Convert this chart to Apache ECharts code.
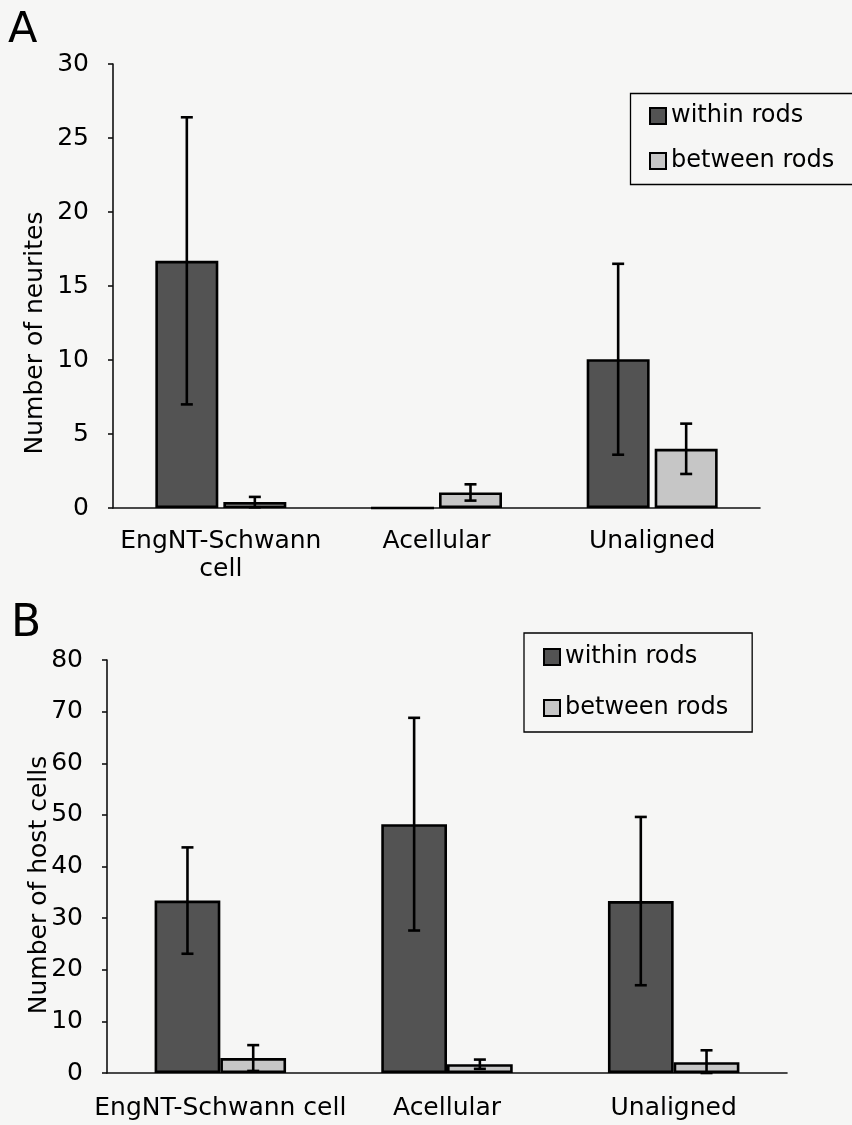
<!DOCTYPE html>
<html><head><meta charset="utf-8">
<script src="https://cdn.jsdelivr.net/npm/echarts@6/dist/echarts.min.js"></script>
<style>html,body{margin:0;padding:0;background:#f6f6f5;overflow:hidden;} #c{width:852px;height:1125px;}</style>
</head><body><div id="c"></div>
<script>
// ---- data ----
const seriesNames = ['within rods', 'between rods'];
const categoriesA = ['EngNT-Schwann\ncell', 'Acellular', 'Unaligned'];
const withinA = [16.7, 0, 10.05];
const withinErrA = [9.7, 0, 6.45];
const betweenA = [0.4, 1.05, 4.0];
const betweenErrA = [0.35, 0.55, 1.7];
const yTicksA = [0, 5, 10, 15, 20, 25, 30];

const categoriesB = ['EngNT-Schwann cell', 'Acellular', 'Unaligned'];
const withinB = [33.4, 48.2, 33.3];
const withinErrB = [10.3, 20.6, 16.3];
const betweenB = [2.9, 1.7, 2.1];
const betweenErrB = [2.5, 0.9, 2.3];
const yTicksB = [0, 10, 20, 30, 40, 50, 60, 70, 80];

const titleA = 'Number of neurites';
const titleB = 'Number of host cells';

// ---- style ----
const FONT = 'DejaVu Sans';
const DARK = '#535353';
const LIGHT = '#c6c6c6';
const axisLineStyle = { color: '#111', width: 1.6 };

function errSeries(vals, errs, xi, side, bw, gap) {
  return {
    type: 'custom', xAxisIndex: xi, yAxisIndex: xi, silent: true, z: 10,
    data: vals.map((v, i) => [i, v, errs[i]]),
    renderItem(params, api) {
      const i = api.value(0), v = api.value(1), e = api.value(2);
      if (!e) return null;
      const band = api.size([1, 0])[0];
      const off = side * band * bw * (1 + gap) / 2;
      const hi = api.coord([i, v + e]);
      const lo = api.coord([i, Math.max(v - e, 0)]);
      const x = hi[0] + off, cap = 6;
      const st = { stroke: '#000', lineWidth: 2.6 };
      return { type: 'group', children: [
        { type: 'line', shape: { x1: x, y1: hi[1], x2: x, y2: lo[1] }, style: st },
        { type: 'line', shape: { x1: x - cap, y1: hi[1], x2: x + cap, y2: hi[1] }, style: st },
        { type: 'line', shape: { x1: x - cap, y1: lo[1], x2: x + cap, y2: lo[1] }, style: st }
      ] };
    }
  };
}

function barSeries(name, vals, xi, color, bw, gap) {
  return {
    type: 'bar', name, xAxisIndex: xi, yAxisIndex: xi, data: vals,
    barWidth: (bw * 100) + '%', barGap: (gap * 100) + '%',
    itemStyle: { color, borderColor: '#000', borderWidth: 2.6 }
  };
}

function xAxis(gi, cats, margin) {
  return {
    type: 'category', gridIndex: gi, data: cats,
    axisLine: { lineStyle: axisLineStyle },
    axisTick: { length: 7, lineStyle: axisLineStyle },
    axisLabel: { interval: 0, fontFamily: FONT, fontSize: 25, color: '#000', margin, lineHeight: 28 }
  };
}
function yAxis(gi, ticks) {
  return {
    type: 'value', gridIndex: gi, min: ticks[0], max: ticks[ticks.length - 1],
    interval: ticks[1] - ticks[0],
    axisLine: { show: true, lineStyle: axisLineStyle },
    axisTick: { show: true, length: 5, lineStyle: axisLineStyle },
    splitLine: { show: false },
    axisLabel: { fontFamily: FONT, fontSize: 25, color: '#000', margin: 24 }
  };
}
function legend(left, top, pad, gap, bw) {
  return {
    data: seriesNames, orient: 'vertical', left, top, padding: pad, itemGap: gap,
    itemWidth: 16, itemHeight: 16, icon: 'rect',
    borderColor: '#000', borderWidth: bw, borderRadius: 0,
    textStyle: { fontFamily: FONT, fontSize: 24, color: '#000', lineHeight: 28 }
  };
}

const BW_A = 0.292, GAP_A = 0.08;
const BW_B = 0.29, GAP_B = 0;

const chart = echarts.init(document.getElementById('c'));
chart.setOption({
  backgroundColor: '#f6f6f5',
  animation: false,
  grid: [
    { left: 113, top: 64, width: 647, height: 444 },
    { left: 107, top: 660, width: 680, height: 413 }
  ],
  xAxis: [xAxis(0, categoriesA, 19), xAxis(1, categoriesB, 21)],
  yAxis: [yAxis(0, yTicksA), yAxis(1, yTicksB)],
  legend: [legend(630, 93, [9, 10, 9, 19], 17, 0), legend(524, 633, [10, 24, 10, 19], 23, 1.3)],
  series: [
    barSeries(seriesNames[0], withinA, 0, DARK, BW_A, GAP_A),
    barSeries(seriesNames[1], betweenA, 0, LIGHT, BW_A, GAP_A),
    errSeries(withinA, withinErrA, 0, -1, BW_A, GAP_A),
    errSeries(betweenA, betweenErrA, 0, 1, BW_A, GAP_A),
    barSeries(seriesNames[0], withinB, 1, DARK, BW_B, GAP_B),
    barSeries(seriesNames[1], betweenB, 1, LIGHT, BW_B, GAP_B),
    errSeries(withinB, withinErrB, 1, -1, BW_B, GAP_B),
    errSeries(betweenB, betweenErrB, 1, 1, BW_B, GAP_B)
  ],
  graphic: [
    { type: 'polyline', silent: true,
      shape: { points: [[860, 93.5], [630.5, 93.5], [630.5, 184.5], [860, 184.5]] },
      style: { stroke: '#000', lineWidth: 1.3, fill: null } },
    { type: 'text', left: 8, top: 9, style: { text: 'A', font: '43px "DejaVu Sans"', fill: '#000' } },
    { type: 'text', left: 11, top: 603, style: { text: 'B', font: '44px "DejaVu Sans"', fill: '#000' } },
    { type: 'text', x: 35, y: 333, rotation: Math.PI / 2,
      style: { text: titleA, font: '25px "DejaVu Sans"', fill: '#000', align: 'center', verticalAlign: 'middle' } },
    { type: 'text', x: 39, y: 885, rotation: Math.PI / 2,
      style: { text: titleB, font: '25px "DejaVu Sans"', fill: '#000', align: 'center', verticalAlign: 'middle' } }
  ]
});
</script></body></html>
